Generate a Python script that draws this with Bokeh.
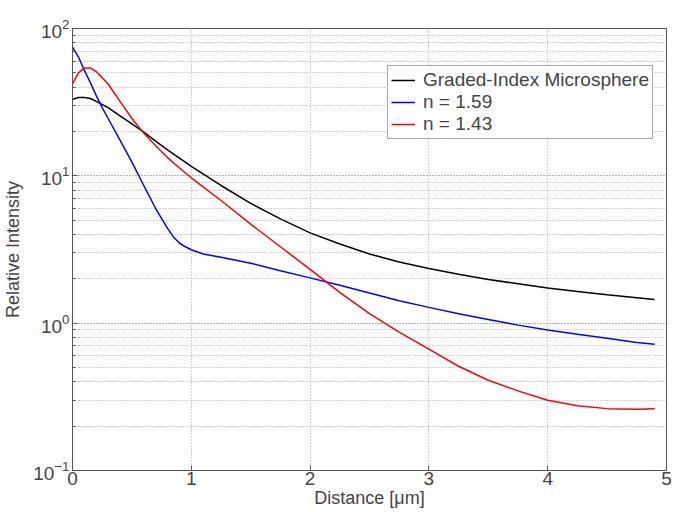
from bokeh.plotting import figure
from bokeh.models import Legend, LegendItem, FixedTicker, Range1d
from bokeh.embed import file_html
from bokeh.resources import INLINE

x_black = [0, 0.05, 0.1, 0.15, 0.2, 0.3, 0.4, 0.5, 0.6, 0.7, 0.8, 0.9, 1.0, 1.25, 1.5, 1.75,
           2.0, 2.25, 2.5, 2.75, 3.0, 3.25, 3.5, 3.75, 4.0, 4.25, 4.5, 4.75, 4.9]
y_black = [33, 34, 34, 33.5, 32, 29, 25.5, 22.5, 19.8, 17.2, 15, 13.2, 11.6, 8.6, 6.5, 5.1,
           4.1, 3.45, 2.95, 2.6, 2.35, 2.15, 1.98, 1.85, 1.73, 1.64, 1.56, 1.49, 1.45]

x_blue = [0, 0.05, 0.1, 0.15, 0.2, 0.25, 0.3, 0.4, 0.5, 0.6, 0.7, 0.8, 0.85, 0.9, 0.95, 1.0,
          1.1, 1.25, 1.5, 1.75, 2.0, 2.25, 2.5, 2.75, 3.0, 3.25, 3.5, 3.75, 4.0, 4.25, 4.5,
          4.75, 4.9]
y_blue = [75, 64, 52, 43, 35, 29, 24.5, 17.5, 12.4, 8.6, 6.0, 4.4, 3.85, 3.5, 3.3, 3.15,
          2.95, 2.8, 2.55, 2.27, 2.03, 1.81, 1.6, 1.42, 1.28, 1.16, 1.06, 0.97, 0.9, 0.84, 0.79,
          0.74, 0.72]

x_red = [0, 0.05, 0.1, 0.15, 0.2, 0.3, 0.4, 0.5, 0.6, 0.7, 0.8, 0.9, 1.0, 1.25, 1.5, 1.75,
         2.0, 2.25, 2.5, 2.75, 3.0, 3.25, 3.5, 3.75, 4.0, 4.25, 4.5, 4.75, 4.9]
y_red = [42, 50, 54, 54, 51, 42, 32, 24.5, 19.5, 16, 13.3, 11.3, 9.7, 6.8, 4.7, 3.3,
         2.32, 1.62, 1.16, 0.87, 0.667, 0.51, 0.41, 0.347, 0.30, 0.275, 0.263, 0.26, 0.262]

labels = ["Graded-Index Microsphere", "n = 1.59", "n = 1.43"]
x_ticks = [0, 1, 2, 3, 4, 5]

FONT = "Liberation Sans"

p = figure(width=677, height=510, x_axis_type="linear", y_axis_type="log",
           x_range=Range1d(0, 5), y_range=Range1d(0.1, 100),
           output_backend="svg", toolbar_location=None,
           min_border_left=70, min_border_right=11, min_border_top=28, min_border_bottom=34)

p.outline_line_color = "#555555"
p.outline_line_width = 1

r1 = p.line(x_black, y_black, line_color="black", line_width=1.5)
r2 = p.line(x_blue, y_blue, line_color="blue", line_width=1.5)
r3 = p.line(x_red, y_red, line_color="red", line_width=1.5)

p.xaxis.ticker = FixedTicker(ticks=x_ticks)
p.xaxis.axis_label = "Distance [\u03bcm]"
p.yaxis.axis_label = "Relative Intensity"
for ax in (p.xaxis[0], p.yaxis[0]):
    ax.axis_label_text_font = FONT
    ax.axis_label_text_font_size = "18px"
    ax.axis_label_text_font_style = "normal"
    ax.major_label_text_font = FONT
    ax.major_label_text_font_size = "19px"
    ax.major_tick_in = 5
    ax.major_tick_out = 0
    ax.minor_tick_in = 3
    ax.minor_tick_out = 0
    ax.axis_line_color = "#555555"
    ax.major_tick_line_color = "#555555"
    ax.minor_tick_line_color = "#555555"
p.xaxis.axis_label_standoff = 0
p.xaxis.major_label_standoff = 1
p.yaxis.axis_label_standoff = 7
p.yaxis.major_label_standoff = 3
p.xaxis.minor_tick_line_color = None

p.xgrid.grid_line_color = "#aaaaaa"
p.xgrid.grid_line_dash = "1 2"
p.ygrid.grid_line_color = "#aaaaaa"
p.ygrid.grid_line_dash = "1 2"
p.ygrid.minor_grid_line_color = "#aaaaaa"
p.ygrid.minor_grid_line_dash = "1 2"

legend = Legend(items=[LegendItem(label=labels[0], renderers=[r1]),
                       LegendItem(label=labels[1], renderers=[r2]),
                       LegendItem(label=labels[2], renderers=[r3])],
                location=(315, 331))
legend.label_text_font = FONT
legend.label_text_font_size = "19px"
legend.label_height = 22
legend.glyph_height = 22
legend.glyph_width = 24
legend.label_standoff = 8
legend.spacing = 0
legend.padding = 3
legend.margin = 0
legend.border_line_color = "#555555"
legend.border_line_width = 1
legend.background_fill_alpha = 1
p.add_layout(legend, "center")

open("out.html", "w").write(file_html(p, INLINE))
